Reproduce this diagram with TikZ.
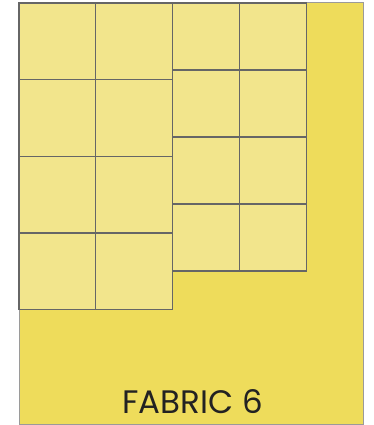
\documentclass[tikz,border=0pt]{standalone}
\usepackage{fontspec}
\setmainfont{Poppins}
\definecolor{fabric}{HTML}{EEDC5B}
\definecolor{tile}{HTML}{F2E58C}
\definecolor{tileline}{HTML}{666666}
\definecolor{outerline}{HTML}{9A9A9A}
\definecolor{txt}{HTML}{222222}
\begin{document}
\begin{tikzpicture}[x=1pt,y=-1pt,
  fabricbox/.style={fill=fabric,draw=outerline,line width=1pt},
  tilebox/.style={fill=tile,draw=tileline,line width=1.3pt},
  label/.style={text=txt,font=\fontsize{32.5}{32.5}\selectfont,anchor=base}]
\useasboundingbox (0,0) rectangle (373,425);
\draw[fabricbox] (19,3) rectangle (363.5,424);
% left grid 2x4
\foreach \i in {0,1} {
  \foreach \j in {0,...,3} {
    \draw[tilebox] ({19+\i*76.75},{3+\j*76.68}) rectangle ({19+(\i+1)*76.75},{3+(\j+1)*76.68});
  }
}
% right grid 2x4
\foreach \i in {0,1} {
  \foreach \j in {0,...,3} {
    \draw[tilebox] ({172.5+\i*67.1},{3+\j*67}) rectangle ({172.5+(\i+1)*67.1},{3+(\j+1)*67});
  }
}
\node[label] (title) at (192.5,413.5) {FABRIC 6};
\end{tikzpicture}
\end{document}
